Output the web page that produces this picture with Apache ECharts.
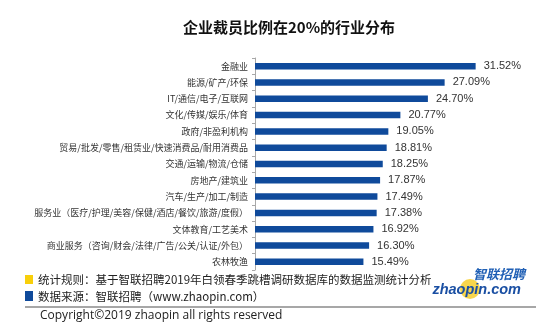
<!DOCTYPE html>
<html>
<head>
<meta charset="utf-8">
<script src="https://cdn.jsdelivr.net/npm/echarts@6/dist/echarts.min.js"></script>
<style>
  html, body { margin: 0; padding: 0; background: #fff; }
  #chart { width: 550px; height: 332px; }
</style>
</head>
<body>
<div id="chart"></div>
<script>
// Industries, top to bottom
const industries = [
  '金融业',
  '能源/矿产/环保',
  'IT/通信/电子/互联网',
  '文化/传媒/娱乐/体育',
  '政府/非盈利机构',
  '贸易/批发/零售/租赁业/快速消费品/耐用消费品',
  '交通/运输/物流/仓储',
  '房地产/建筑业',
  '汽车/生产/加工/制造',
  '服务业（医疗/护理/美容/保健/酒店/餐饮/旅游/度假）',
  '文体教育/工艺美术',
  '商业服务（咨询/财会/法律/广告/公关/认证/外包）',
  '农林牧渔'
];
// Share of companies with 20% layoffs, percent
const layoffShare = [31.52, 27.09, 24.70, 20.77, 19.05, 18.81, 18.25, 17.87, 17.49, 17.38, 16.92, 16.30, 15.49];

const titleText = '企业裁员比例在20%的行业分布';
const ruleText = '统计规则：基于智联招聘2019年白领春季跳槽调研数据库的数据监测统计分析';
const sourceText = '数据来源：智联招聘（www.zhaopin.com）';
const copyrightText = 'Copyright©2019 zhaopin all rights reserved';

const BLUE = '#0f4a9b';
const YELLOW = '#f8cf0a';
const CJK = '"Noto Sans CJK SC", "Noto Sans", sans-serif';

const chart = echarts.init(document.getElementById('chart'), null, { renderer: 'canvas' });

chart.setOption({
  backgroundColor: '#ffffff',
  animation: false,
  title: {
    text: titleText,
    left: 284,
    textAlign: 'center',
    top: 15,
    textStyle: { fontFamily: CJK, fontSize: 15, fontWeight: 'bold', color: '#111' }
  },
  grid: { left: 255, top: 58, width: 280, height: 212, containLabel: false },
  xAxis: {
    type: 'value', min: 0, max: 40, show: false
  },
  yAxis: {
    type: 'category',
    data: industries,
    inverse: true,
    axisLine: { show: true, lineStyle: { color: '#a8a8a8', width: 1 } },
    axisTick: { show: true, length: 3, lineStyle: { color: '#a8a8a8' } },
    axisLabel: { fontFamily: CJK, fontSize: 9, color: '#333', margin: 7 },
    splitLine: { show: false }
  },
  series: [{
    type: 'bar',
    data: layoffShare,
    barWidth: 6.5,
    itemStyle: { color: BLUE },
    label: {
      show: true,
      position: 'right',
      distance: 8,
      formatter: p => p.value.toFixed(2) + '%',
      fontFamily: '"Liberation Sans", Arial, sans-serif',
      fontSize: 11,
      color: '#333'
    }
  }],
  graphic: [
    { type: 'rect', shape: { x: 25, y: 275, width: 8, height: 9 }, style: { fill: YELLOW } },
    { type: 'text', x: 38, y: 279.5, style: { text: ruleText, font: '11.5px ' + CJK, fill: '#222', textVerticalAlign: 'middle' } },
    { type: 'rect', shape: { x: 25, y: 291, width: 8, height: 10 }, style: { fill: BLUE } },
    { type: 'text', x: 38, y: 297, style: { text: sourceText, font: '11.5px ' + CJK, fill: '#222', textVerticalAlign: 'middle' } },
    { type: 'line', shape: { x1: 25, y1: 307, x2: 536, y2: 307 }, style: { stroke: '#8a8a8a', lineWidth: 1.5 } },
    { type: 'text', x: 40, y: 315.5, style: { text: copyrightText, font: '12px "Open Sans", sans-serif', fill: '#222', textVerticalAlign: 'middle' } },
    // brand mark
    { type: 'circle', shape: { cx: 470, cy: 289, r: 10 }, style: { fill: '#f7d23a', opacity: 0.9 } },
    { type: 'text', x: 525, y: 274, style: { text: '智联招聘', font: 'italic bold 13px ' + CJK, fill: '#1f5fb5', textAlign: 'right', textVerticalAlign: 'middle' } },
    { type: 'text', x: 521, y: 290, style: { text: 'zhaopin.com', font: 'italic bold 14.5px "Liberation Sans", Arial, sans-serif', fill: '#1a4fa3', textAlign: 'right', textVerticalAlign: 'middle' } }
  ]
});
</script>
</body>
</html>
